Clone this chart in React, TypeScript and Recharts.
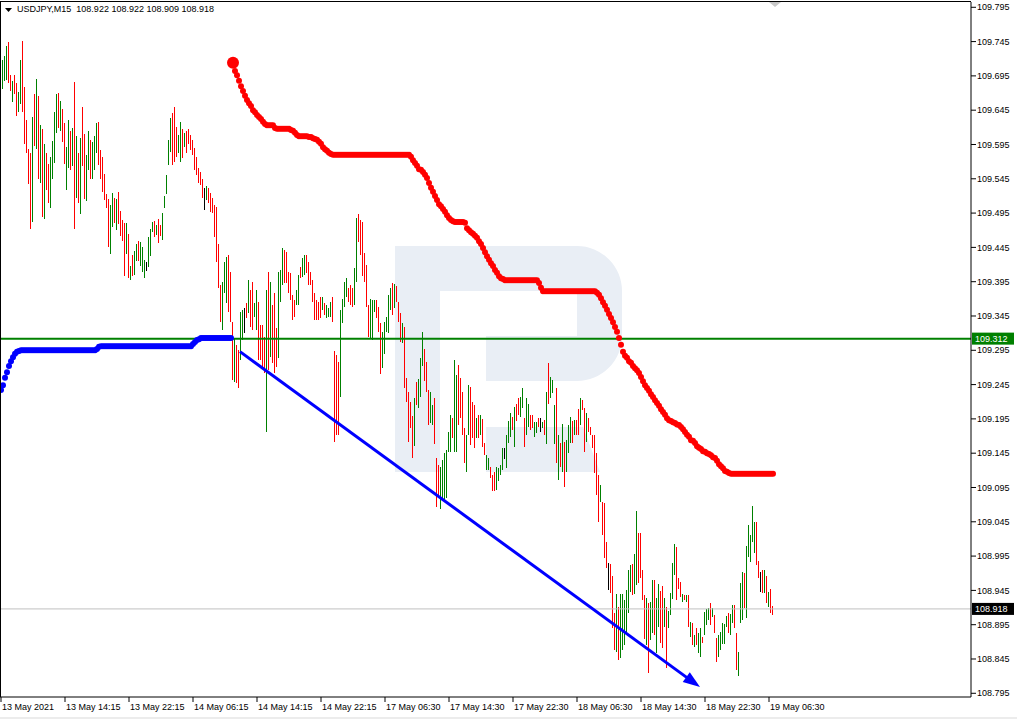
import {Bar, ComposedChart, Line, ReferenceLine, XAxis, YAxis} from "recharts";

const FONT = '"Liberation Sans", Arial, sans-serif';

const symbolTitle = "USDJPY,M15  108.922 108.922 108.909 108.918";

const timeLabels = [
    "13 May 2021", "13 May 14:15", "13 May 22:15", "14 May 06:15", "14 May 14:15", "14 May 22:15",
    "17 May 06:30", "17 May 14:30", "17 May 22:30", "18 May 06:30", "18 May 14:30", "18 May 22:30",
    "19 May 06:30"
];
const labelBars = [0, 32, 64, 96, 128, 160, 192, 224, 256, 288, 320, 352, 384];

const priceTicks = [
    109.795, 109.745, 109.695, 109.645, 109.595, 109.545, 109.495, 109.445, 109.395, 109.345, 109.295,
    109.245, 109.195, 109.145, 109.095, 109.045, 108.995, 108.945, 108.895, 108.845, 108.795
];

// M15 bars, high / low per bar
const highs = [
    109.681, 109.718, 109.724, 109.739, 109.745, 109.697, 109.688, 109.697, 109.685, 109.672,
    109.718, 109.746, 109.679, 109.630, 109.589, 109.582, 109.635, 109.668, 109.691, 109.665,
    109.624, 109.617, 109.595, 109.582, 109.567, 109.577, 109.600, 109.643, 109.668, 109.670,
    109.659, 109.646, 109.627, 109.592, 109.631, 109.614, 109.619, 109.686, 109.608, 109.582,
    109.605, 109.649, 109.611, 109.579, 109.614, 109.602, 109.598, 109.608, 109.627, 109.628,
    109.587, 109.577, 109.552, 109.523, 109.516, 109.507, 109.525, 109.517, 109.516, 109.526,
    109.498, 109.485, 109.481, 109.481, 109.465, 109.418, 109.434, 109.440, 109.450, 109.455,
    109.453, 109.446, 109.427, 109.424, 109.460, 109.472, 109.482, 109.484, 109.478, 109.487,
    109.478, 109.495, 109.520, 109.551, 109.602, 109.634, 109.641, 109.649, 109.621, 109.609,
    109.628, 109.617, 109.612, 109.614, 109.617, 109.609, 109.602, 109.590, 109.577, 109.561,
    109.555, 109.544, 109.532, 109.535, 109.532, 109.525, 109.517, 109.507, 109.504, 109.450,
    109.390, 109.395, 109.424, 109.431, 109.434, 109.409, 109.336, 109.313, 109.303, 109.296,
    109.351, 109.354, 109.357, 109.364, 109.398, 109.383, 109.395, 109.364, 109.383, 109.366,
    109.332, 109.332, 109.315, 109.383, 109.409, 109.395, 109.361, 109.379, 109.328, 109.409,
    109.412, 109.444, 109.441, 109.439, 109.409, 109.408, 109.376, 109.369, 109.383, 109.405,
    109.417, 109.430, 109.434, 109.434, 109.423, 109.409, 109.398, 109.379, 109.369, 109.366,
    109.372, 109.372, 109.364, 109.361, 109.357, 109.366, 109.372, 109.294, 109.288, 109.278,
    109.354, 109.370, 109.395, 109.401, 109.386, 109.390, 109.386, 109.415, 109.488, 109.494,
    109.485, 109.482, 109.437, 109.420, 109.361, 109.370, 109.369, 109.369, 109.369, 109.358,
    109.335, 109.322, 109.336, 109.344, 109.376, 109.386, 109.393, 109.392, 109.389, 109.366,
    109.350, 109.335, 109.329, 109.255, 109.234, 109.220, 109.199, 109.226, 109.249, 109.253,
    109.284, 109.322, 109.297, 109.278, 109.237, 109.234, 109.215, 109.226, 109.138, 109.128,
    109.125, 109.135, 109.145, 109.150, 109.176, 109.201, 109.197, 109.281, 109.259, 109.274,
    109.255, 109.234, 109.182, 109.172, 109.245, 109.242, 109.220, 109.215, 109.197, 109.201,
    109.201, 109.195, 109.160, 109.143, 109.138, 109.125, 109.113, 109.118, 109.125, 109.124,
    109.128, 109.153, 109.153, 109.172, 109.192, 109.204, 109.198, 109.213, 109.217, 109.226,
    109.227, 109.240, 109.197, 109.226, 109.217, 109.201, 109.201, 109.191, 109.191, 109.197,
    109.197, 109.191, 109.194, 109.234, 109.277, 109.256, 109.252, 109.215, 109.240, 109.172,
    109.160, 109.188, 109.162, 109.164, 109.186, 109.198, 109.192, 109.194, 109.194, 109.210,
    109.226, 109.223, 109.211, 109.204, 109.197, 109.183, 109.172, 109.172, 109.145, 109.113,
    109.099, 109.074, 109.073, 109.016, 108.985, 108.984, 108.966, 108.912, 108.940, 108.921,
    108.940, 108.940, 108.931, 108.946, 108.974, 108.982, 108.984, 108.998, 109.061, 109.029,
    109.029, 108.974, 108.939, 108.934, 108.927, 108.928, 108.960, 108.960, 108.934, 108.954,
    108.944, 108.952, 108.934, 108.921, 108.915, 108.941, 108.985, 109.013, 109.008, 108.963,
    108.957, 108.940, 108.939, 108.939, 108.939, 108.899, 108.898, 108.880, 108.890, 108.883,
    108.890, 108.877, 108.914, 108.918, 108.920, 108.927, 108.920, 108.909, 108.876, 108.880,
    108.885, 108.898, 108.896, 108.908, 108.912, 108.911, 108.923, 108.923, 108.883, 108.855,
    108.956, 108.972, 108.971, 109.010, 109.041, 109.026, 109.068, 109.045, 109.044, 108.988,
    108.972, 108.974, 108.974, 108.966, 108.943, 108.947, 108.922
];

const lows = [
    109.635, 109.676, 109.688, 109.689, 109.685, 109.673, 109.657, 109.669, 109.637, 109.643,
    109.654, 109.643, 109.596, 109.582, 109.538, 109.472, 109.482, 109.593, 109.589, 109.545,
    109.539, 109.490, 109.487, 109.528, 109.510, 109.503, 109.544, 109.568, 109.612, 109.619,
    109.614, 109.599, 109.567, 109.529, 109.561, 109.558, 109.564, 109.472, 109.517, 109.509,
    109.494, 109.564, 109.516, 109.513, 109.558, 109.545, 109.545, 109.558, 109.582, 109.565,
    109.545, 109.526, 109.514, 109.503, 109.446, 109.436, 109.475, 109.481, 109.471, 109.479,
    109.462, 109.455, 109.404, 109.436, 109.401, 109.398, 109.404, 109.405, 109.425, 109.425,
    109.418, 109.409, 109.401, 109.411, 109.417, 109.433, 109.468, 109.460, 109.463, 109.452,
    109.462, 109.456, 109.503, 109.523, 109.565, 109.584, 109.565, 109.570, 109.577, 109.583,
    109.570, 109.576, 109.592, 109.583, 109.595, 109.587, 109.580, 109.558, 109.551, 109.539,
    109.536, 109.517, 109.500, 109.514, 109.510, 109.497, 109.495, 109.460, 109.423, 109.386,
    109.336, 109.325, 109.379, 109.364, 109.351, 109.336, 109.252, 109.249, 109.248, 109.240,
    109.281, 109.310, 109.320, 109.342, 109.350, 109.329, 109.325, 109.344, 109.325, 109.281,
    109.281, 109.271, 109.262, 109.176, 109.266, 109.285, 109.277, 109.262, 109.271, 109.284,
    109.366, 109.390, 109.393, 109.393, 109.379, 109.369, 109.339, 109.344, 109.361, 109.361,
    109.401, 109.402, 109.405, 109.408, 109.390, 109.390, 109.366, 109.339, 109.339, 109.339,
    109.342, 109.354, 109.347, 109.342, 109.344, 109.344, 109.336, 109.162, 109.172, 109.172,
    109.227, 109.335, 109.358, 109.372, 109.366, 109.361, 109.358, 109.361, 109.395, 109.453,
    109.434, 109.404, 109.395, 109.358, 109.315, 109.313, 109.310, 109.351, 109.342, 109.322,
    109.261, 109.269, 109.290, 109.322, 109.320, 109.354, 109.347, 109.357, 109.366, 109.336,
    109.307, 109.306, 109.240, 109.220, 109.162, 109.182, 109.138, 109.156, 109.215, 109.211,
    109.227, 109.272, 109.250, 109.234, 109.186, 109.189, 109.186, 109.159, 109.067, 109.080,
    109.064, 109.080, 109.075, 109.080, 109.147, 109.147, 109.167, 109.147, 109.147, 109.186,
    109.197, 109.172, 109.131, 109.118, 109.172, 109.157, 109.167, 109.153, 109.167, 109.167,
    109.172, 109.154, 109.143, 109.121, 109.121, 109.109, 109.090, 109.090, 109.092, 109.105,
    109.113, 109.121, 109.137, 109.124, 109.160, 109.169, 109.179, 109.154, 109.192, 109.201,
    109.198, 109.211, 109.154, 109.172, 109.183, 109.179, 109.182, 109.169, 109.175, 109.183,
    109.176, 109.182, 109.172, 109.159, 109.217, 109.226, 109.233, 109.159, 109.131, 109.106,
    109.125, 109.118, 109.096, 109.118, 109.145, 109.160, 109.160, 109.172, 109.172, 109.172,
    109.186, 109.208, 109.147, 109.162, 109.176, 109.172, 109.153, 109.116, 109.084, 109.045,
    109.074, 109.026, 108.992, 108.978, 108.946, 108.941, 108.890, 108.858, 108.855, 108.844,
    108.847, 108.858, 108.866, 108.883, 108.912, 108.943, 108.939, 108.940, 108.953, 108.956,
    108.963, 108.931, 108.874, 108.866, 108.825, 108.873, 108.883, 108.880, 108.854, 108.892,
    108.869, 108.861, 108.892, 108.832, 108.890, 108.909, 108.933, 108.968, 108.931, 108.947,
    108.936, 108.928, 108.931, 108.928, 108.892, 108.877, 108.866, 108.863, 108.866, 108.854,
    108.848, 108.869, 108.880, 108.895, 108.902, 108.895, 108.906, 108.883, 108.841, 108.848,
    108.858, 108.867, 108.867, 108.892, 108.883, 108.880, 108.898, 108.890, 108.829, 108.820,
    108.898, 108.902, 108.920, 108.905, 108.994, 108.987, 109.016, 109.000, 108.982, 108.963,
    108.943, 108.941, 108.941, 108.927, 108.921, 108.912, 108.909
];

// u = up bar, d = down bar, n = unchanged
const moves = [
    "uuuudduddu", "udddddudud", "ududduuuud", "udduududud", "udduuduuud",
    "ddddduudud", "dddududuud", "uuunuuudud", "duuuuudddu", "ududdddddd",
    "ddnudddddd", "duuudddudd", "uundudduud", "dddududddu", "uudddddduu",
    "duuddddddd", "duduuudddd", "uuuuddduud", "ddddduuudd", "duuuuududd",
    "dudddddudu", "uuddduuddd", "uuuuuuduud", "ddduudddud", "udduuddduu",
    "uunuuududd", "uuduudduud", "nududuuudu", "duduuududd", "uddudddddd",
    "udddndddud", "uuuuuuduud", "ddduduuduu", "dduduuuudd", "dududududu",
    "uduuududdu", "uuuuduuddu", "uuduuuuudd", "ndududd"
].join("");

// trailing stop above price (from bar 116)
const redStart = 116;
const redStop = [
    109.714, 109.702, 109.696, 109.688, 109.680, 109.673, 109.666, 109.660, 109.655, 109.651,
    109.645, 109.642, 109.638, 109.635, 109.632, 109.628, 109.625, 109.623, 109.623, 109.623,
    109.623, 109.619, 109.618, 109.618, 109.618, 109.618, 109.618, 109.618, 109.618, 109.616,
    109.615, 109.612, 109.609, 109.607, 109.607, 109.607, 109.607, 109.607, 109.606, 109.606,
    109.604, 109.603, 109.602, 109.599, 109.596, 109.591, 109.588, 109.586, 109.583, 109.581,
    109.580, 109.580, 109.580, 109.580, 109.580, 109.580, 109.580, 109.580, 109.580, 109.580,
    109.580, 109.580, 109.580, 109.580, 109.580, 109.580, 109.580, 109.580, 109.580, 109.580,
    109.580, 109.580, 109.580, 109.580, 109.580, 109.580, 109.580, 109.580, 109.580, 109.580,
    109.580, 109.580, 109.580, 109.580, 109.580, 109.580, 109.580, 109.580, 109.580,
    109.577, 109.572, 109.568, 109.564, 109.559, 109.558, 109.555, 109.551, 109.546, 109.539,
    109.532, 109.526, 109.520, 109.514, 109.508, 109.505, 109.501, 109.497, 109.492, 109.488,
    109.485, 109.483, 109.482, 109.482, 109.482, 109.482, 109.482, 109.481, 109.473, 109.470,
    109.467, 109.465, 109.462, 109.459, 109.454, 109.450, 109.444, 109.438, 109.432, 109.427,
    109.422, 109.418, 109.412, 109.408, 109.403, 109.400, 109.399, 109.397, 109.397, 109.397,
    109.397, 109.397, 109.397, 109.397, 109.397, 109.397, 109.397, 109.397, 109.397, 109.397,
    109.397, 109.397, 109.397, 109.397,
    109.393, 109.386,
    109.381, 109.381, 109.381, 109.381, 109.381, 109.381, 109.381, 109.381, 109.381, 109.381,
    109.381, 109.381, 109.381, 109.381, 109.381, 109.381, 109.381, 109.381, 109.381, 109.381,
    109.381, 109.381, 109.381, 109.381, 109.381, 109.381, 109.381,
    109.379, 109.376, 109.371, 109.365, 109.360, 109.354, 109.348, 109.342, 109.336, 109.329,
    109.322, 109.313, 109.303, 109.293, 109.287, 109.284, 109.279, 109.277, 109.272, 109.269,
    109.266, 109.262, 109.256, 109.250, 109.244, 109.240, 109.236, 109.231, 109.227, 109.222,
    109.218, 109.214, 109.209, 109.205, 109.201, 109.196, 109.193, 109.192, 109.190, 109.189,
    109.187, 109.186, 109.183, 109.180, 109.176, 109.172, 109.169, 109.164, 109.163, 109.160,
    109.155, 109.153, 109.151, 109.148, 109.147, 109.145, 109.144, 109.142, 109.139, 109.138,
    109.134, 109.129, 109.126, 109.123, 109.119, 109.118, 109.116,
    109.115, 109.115, 109.115, 109.115, 109.115, 109.115, 109.115, 109.115, 109.115, 109.115,
    109.115, 109.115, 109.115, 109.115, 109.115, 109.115, 109.115, 109.115, 109.115, 109.115,
    109.115, 109.115
];

// trailing stop below price (bars 0..115)
const blueStart = 0;
const blueStop = [
    109.237, 109.244, 109.255, 109.263, 109.272, 109.279, 109.285, 109.290, 109.293, 109.294,
    109.295, 109.295, 109.295, 109.295, 109.295, 109.295, 109.295, 109.295, 109.295, 109.295,
    109.295, 109.295, 109.295, 109.295, 109.295, 109.295, 109.295, 109.295, 109.295, 109.295,
    109.295, 109.295, 109.295, 109.295, 109.295, 109.295, 109.295, 109.295, 109.295, 109.295,
    109.295, 109.295, 109.295, 109.295, 109.295, 109.295, 109.295, 109.295, 109.297, 109.300,
    109.301, 109.301, 109.301, 109.301, 109.301, 109.301, 109.301, 109.301, 109.301, 109.301,
    109.301, 109.301, 109.301, 109.301, 109.301, 109.301, 109.301, 109.301, 109.301, 109.301,
    109.301, 109.301, 109.301, 109.301, 109.301, 109.301, 109.301, 109.301, 109.301, 109.301,
    109.301, 109.301, 109.301, 109.301, 109.301, 109.301, 109.301, 109.301, 109.301, 109.301,
    109.301, 109.301, 109.301, 109.301, 109.301, 109.301, 109.304, 109.307, 109.310, 109.311,
    109.313, 109.313, 109.313, 109.313, 109.313, 109.313, 109.313, 109.313, 109.313, 109.313,
    109.313, 109.313, 109.313, 109.313, 109.313, 109.313
];

const levelLine = 109.312;
const lastPrice = 108.918;
const arrowFrom = {bar: 119.5, price: 109.293};
const arrowTo = {bar: 349.5, price: 108.804};

const rows = highs.map((high, i) => ({
    i,
    range: [lows[i], high],
    move: moves[i] ?? "u",
    red: i >= redStart && i - redStart < redStop.length ? redStop[i - redStart] : null,
    blue: i >= blueStart && i - blueStart < blueStop.length ? blueStop[i - blueStart] : null
}));

const barColors: Record<string, string> = {u: "#008000", d: "#ff0000", n: "#000000"};

const PriceBar = (props: any) => {
    const {x, y, width, height, payload} = props;
    if (x == null || y == null) return <g/>;
    const left = Math.round(x + width / 2 - 0.5);
    return (
        <rect x={left} y={y} width={1} height={Math.max(1, height)}
              fill={barColors[payload?.move] ?? "#008000"} shapeRendering="crispEdges"/>
    );
};

const stopDot = (color: string, bigIndex: number) => (p: any) => {
    if (p.value == null || p.cy == null || Number.isNaN(p.cy)) return <g key={`e${color}${p.index}`}/>;
    return <circle key={`c${color}${p.index}`} cx={p.cx} cy={p.cy} r={p.index === bigIndex ? 6 : 3} fill={color}/>;
};

const Arrow = (props: any) => {
    const {x1, y1, x2, y2} = props;
    if ([x1, y1, x2, y2].some((v) => v == null || Number.isNaN(v))) return <g/>;
    const dx = x2 - x1;
    const dy = y2 - y1;
    const len = Math.hypot(dx, dy) || 1;
    const ux = dx / len;
    const uy = dy / len;
    const head = 17;
    const half = 6;
    const bx = x2 - ux * head;
    const by = y2 - uy * head;
    return (
        <g>
            <line x1={x1} y1={y1} x2={bx + ux * 3} y2={by + uy * 3} stroke="#0000ff" strokeWidth={3}/>
            <polygon
                points={`${x2},${y2} ${bx - uy * half},${by + ux * half} ${bx + uy * half},${by - ux * half}`}
                fill="#0000ff"/>
        </g>
    );
};

const PriceTag = ({viewBox, text, fill}: any) => {
    if (!viewBox) return null;
    const x = viewBox.x + viewBox.width + 1;
    const y = viewBox.y;
    return (
        <g>
            <rect x={x} y={y - 6} width={42} height={12} fill={fill}/>
            <text x={x + 3} y={y} dy="0.355em" fill="#ffffff" fontSize={9} fontFamily={FONT}>{text}</text>
        </g>
    );
};

const TimeTick = (props: any) => {
    const {x, y, payload} = props;
    const k = labelBars.indexOf(payload.value);
    return (
        <text x={x + 1} y={y} dy="0.71em" fontSize={9} fontFamily={FONT} fill="#000" textAnchor="start">
            {k >= 0 ? timeLabels[k] : ""}
        </text>
    );
};

const App = () => {
    return (
        <div style={{position: "absolute", left: 0, top: 0, width: 1017, height: 719, background: "#fff", overflow: "hidden"}}>
            {/* watermark */}
            <svg width={1017} height={719} style={{position: "absolute", left: 0, top: 0}}>
                <g fill="#e9eef5">
                    <rect x={395} y={246} width={45} height={226}/>
                    <path d="M440,246 H577 A45,45 0 0 1 622,291 V336 A45,45 0 0 1 577,381 H486 V336 H577 V291 H440 Z"/>
                    <path d="M486,427 H583 L600,472 H486 Z"/>
                </g>
            </svg>
            <div style={{position: "absolute", left: 0, top: 0}}>
                <ComposedChart width={1017} height={719} data={rows}
                               margin={{top: 2, right: 0, bottom: 0, left: 0}}>
                    <XAxis dataKey="i" type="number" domain={[-0.5, 485]} allowDataOverflow
                           ticks={labelBars} interval={0} height={22} tickSize={5} tickMargin={2}
                           axisLine={{stroke: "#000"}} tickLine={{stroke: "#000"}} tick={<TimeTick/>}/>
                    <YAxis orientation="right" type="number" domain={[108.7896, 109.8027]} allowDataOverflow
                           ticks={priceTicks} interval={0} width={46} tickSize={5} tickMargin={1}
                           tickFormatter={(v: number) => v.toFixed(3)}
                           axisLine={{stroke: "#000"}} tickLine={{stroke: "#000"}}
                           tick={{fontSize: 9, fontFamily: FONT, fill: "#000"}}/>
                    <Bar dataKey="range" barSize={1} shape={<PriceBar/>} isAnimationActive={false}/>
                    <ReferenceLine y={lastPrice} stroke="#c0c0c0" strokeWidth={1}
                                   label={<PriceTag text={lastPrice.toFixed(3)} fill="#000000"/>}/>
                    <ReferenceLine y={levelLine} stroke="#008000" strokeWidth={2}
                                   label={<PriceTag text={levelLine.toFixed(3)} fill="#008000"/>}/>
                    <Line dataKey="blue" stroke="none" dot={stopDot("#0000ff", -1)} activeDot={false}
                          isAnimationActive={false}/>
                    <Line dataKey="red" stroke="none" dot={stopDot("#ff0000", redStart)} activeDot={false}
                          isAnimationActive={false}/>
                    <ReferenceLine
                        segment={[{x: arrowFrom.bar, y: arrowFrom.price}, {x: arrowTo.bar, y: arrowTo.price}]}
                        shape={(p: any) => <Arrow {...p}/>}/>
                </ComposedChart>
            </div>
            {/* chart frame, title and markers */}
            <div style={{position: "absolute", left: 0, top: 1, width: 971, height: 696,
                borderLeft: "1px solid #000", borderTop: "1px solid #000", boxSizing: "border-box", pointerEvents: "none"}}/>
            <svg width={1017} height={20} style={{position: "absolute", left: 0, top: 0, pointerEvents: "none"}}>
                <polygon points="5,8 12,8 8.5,12" fill="#000"/>
                <polygon points="769,2 781,2 775,7" fill="#c8c8c8"/>
            </svg>
            <div style={{position: "absolute", left: 17, top: 4, fontFamily: FONT, fontSize: 9, lineHeight: "11px",
                color: "#000", whiteSpace: "pre"}}>
                {symbolTitle}
            </div>
            <div style={{position: "absolute", left: 0, top: 717, width: 1017, height: 2, background: "#ececec"}}/>
        </div>
    );
};

export default App;
